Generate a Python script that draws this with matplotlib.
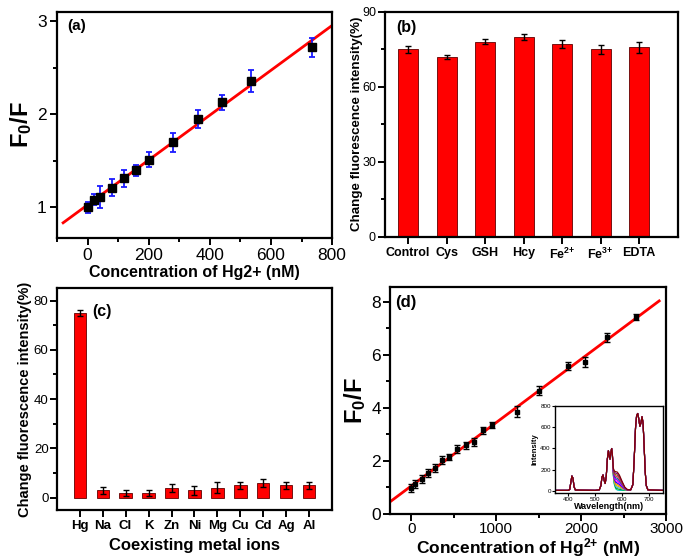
import numpy as np
import matplotlib
matplotlib.use("Agg")
import matplotlib.pyplot as plt
from matplotlib.ticker import MultipleLocator

plt.rcParams['font.family'] = ['Liberation Sans', 'DejaVu Sans']
plt.rcParams['mathtext.fontset'] = 'custom'
plt.rcParams['mathtext.rm'] = 'Liberation Sans:bold'
plt.rcParams['mathtext.it'] = 'Liberation Sans:bold'
plt.rcParams['mathtext.bf'] = 'Liberation Sans:bold'
plt.rcParams['mathtext.default'] = 'rm'

# (a) F0/F vs Hg2+ concentration, low range
conc_a = [0, 20, 40, 80, 120, 160, 200, 280, 360, 440, 535, 735]
ratio_a = [1.00, 1.08, 1.11, 1.21, 1.31, 1.40, 1.51, 1.70, 1.95, 2.13, 2.36, 2.72]
err_a = [0.06, 0.06, 0.12, 0.09, 0.09, 0.06, 0.08, 0.10, 0.10, 0.08, 0.12, 0.10]

# (b) interference of small molecules
labels_b = ['Control', 'Cys', 'GSH', 'Hcy', 'Fe$^{2{+}}$', 'Fe$^{3{+}}$', 'EDTA']
values_b = [74.9, 71.8, 78.0, 80.0, 77.1, 74.9, 75.8]
err_b = [1.4, 0.9, 1.0, 1.2, 1.5, 1.7, 2.2]

# (c) coexisting metal ions
labels_c = ['Hg', 'Na', 'Cl', 'K', 'Zn', 'Ni', 'Mg', 'Cu', 'Cd', 'Ag', 'Al']
values_c = [75.0, 3.0, 1.9, 1.9, 4.0, 3.0, 4.0, 5.0, 5.9, 5.0, 5.0]
err_c = [1.1, 1.4, 1.3, 1.3, 1.7, 1.8, 2.2, 1.3, 1.6, 1.4, 1.3]

# (d) F0/F vs Hg2+ concentration, full range
conc_d = [0, 50, 125, 200, 280, 360, 440, 540, 640, 740, 850, 950,
          1240, 1500, 1850, 2050, 2300, 2650]
ratio_d = [0.99, 1.12, 1.32, 1.55, 1.75, 2.02, 2.15, 2.45, 2.58, 2.72, 3.15, 3.35,
           3.85, 4.65, 5.57, 5.72, 6.65, 7.42]
err_d = [0.15, 0.15, 0.15, 0.15, 0.15, 0.15, 0.12, 0.15, 0.15, 0.15, 0.12, 0.12,
         0.20, 0.18, 0.15, 0.18, 0.18, 0.12]

# inset: emission spectra
wl = [350, 400, 405, 409, 413, 417, 421, 426, 500, 515, 521, 525, 529, 533, 537,
      541, 545, 549, 552, 555, 558, 561, 564, 567, 571, 576, 582, 590, 600, 610,
      620, 632, 640, 645, 650, 654, 658, 662, 666, 670, 674, 678, 682, 686, 690,
      696, 750]
base_int = [5, 5, 15, 80, 140, 120, 40, 8, 5, 10, 50, 130, 150, 100, 70,
            140, 300, 380, 330, 300, 360, 400, 320, 150, 60, 20, 8, 5, 5, 5,
            5, 10, 60, 300, 600, 710, 730, 680, 610, 640, 700, 640, 420, 180, 50,
            10, 5]
band_shape = [0, 0, 0, 0, 0, 0, 0, 0, 0, 0, 0, 0, 0, 0, 0,
              0, 0, 0, 0, 0, 0, 0, 0.1, 0.4, 0.75, 0.95, 1.0, 0.85, 0.5, 0.18,
              0.04, 0, 0, 0, 0, 0, 0, 0, 0, 0, 0, 0, 0, 0, 0,
              0, 0]
band_level = [0, 12, 25, 38, 52, 66, 80, 95, 110, 125, 140, 155, 170]
band_colors = ['#00c0c0', '#00b000', '#40a0ff', '#c8c800', '#ff8000', '#0000ff',
               '#ff00ff', '#8000ff', '#008080', '#ff0080', '#808000', '#800080',
               '#800000']

RED = '#ff0000'


def style_axes(ax, tick_size, pad=2.5):
    for sp in ax.spines.values():
        sp.set_linewidth(1.6)
    ax.tick_params(which='both', direction='out', top=False, right=False,
                   width=1.4, labelsize=tick_size, pad=pad)
    ax.tick_params(which='major', length=5)
    ax.tick_params(which='minor', length=3)


def main():
    fig = plt.figure(figsize=(6.86, 5.59), dpi=100)

    # ---- (a)
    ax = fig.add_axes([0.0831, 0.5742, 0.401, 0.4043])
    k, b = np.polyfit(conc_a, ratio_a, 1)
    xl = np.array([-80, 800])
    ax.plot(xl, k * xl + b, color=RED, lw=2, zorder=1)
    ax.errorbar(conc_a, ratio_a, yerr=err_a, fmt='s', color='black', ms=5.5,
                ecolor='#1a1aff', elinewidth=1.3, capsize=2.5, capthick=1.3,
                zorder=2)
    ax.set_xlim(-100, 800)
    ax.set_ylim(0.67, 3.1)
    ax.xaxis.set_major_locator(MultipleLocator(200))
    ax.xaxis.set_minor_locator(MultipleLocator(100))
    ax.yaxis.set_major_locator(MultipleLocator(1))
    ax.yaxis.set_minor_locator(MultipleLocator(0.5))
    style_axes(ax, 12.5)
    ax.set_xlabel('Concentration of Hg2+ (nM)', fontsize=11.5, fontweight='bold')
    ax.xaxis.set_label_coords(0.5, -0.118)
    ax.xaxis.label.set_va('top')
    ax.set_ylabel('F$_0$/F', fontsize=17, fontweight='bold')
    ax.yaxis.set_label_coords(-0.085, 0.5)
    ax.text(0.036, 0.938, '(a)', transform=ax.transAxes, fontsize=11,
            fontweight='bold', va='center')

    # ---- (b)
    ax = fig.add_axes([0.5612, 0.5766, 0.4265, 0.4025])
    xb = np.arange(len(labels_b))
    ax.bar(xb, values_b, width=0.52, color=RED, edgecolor='#600000', lw=0.6)
    ax.errorbar(xb, values_b, yerr=err_b, fmt='none', ecolor='black',
                elinewidth=1, capsize=2.5, capthick=1)
    ax.set_xlim(-0.6, 7.0)
    ax.set_ylim(0, 90)
    ax.set_xticks(xb)
    ax.set_xticklabels(labels_b, fontweight='bold')
    ax.yaxis.set_major_locator(MultipleLocator(30))
    ax.yaxis.set_minor_locator(MultipleLocator(15))
    style_axes(ax, 9, pad=1.5)
    ax.tick_params(axis='x', labelsize=9, pad=2.5)
    ax.set_ylabel('Change fluorescence intensity(%)', fontsize=9.6,
                  fontweight='bold')
    ax.yaxis.set_label_coords(-0.075, 0.5)
    ax.text(0.038, 0.929, '(b)', transform=ax.transAxes, fontsize=11.5,
            fontweight='bold', va='center')

    # ---- (c)
    ax = fig.add_axes([0.0826, 0.0877, 0.4018, 0.3966])
    xc = np.arange(len(labels_c))
    ax.bar(xc, values_c, width=0.53, color=RED, edgecolor='#600000', lw=0.6)
    ax.errorbar(xc, values_c, yerr=err_c, fmt='none', ecolor='black',
                elinewidth=1, capsize=2.5, capthick=1)
    ax.set_xlim(-1, 11)
    ax.set_ylim(-5, 85)
    ax.set_xticks(xc)
    ax.set_xticklabels(labels_c, fontweight='bold')
    ax.yaxis.set_major_locator(MultipleLocator(20))
    ax.yaxis.set_minor_locator(MultipleLocator(10))
    style_axes(ax, 9.5, pad=0.8)
    ax.tick_params(axis='x', labelsize=9.5, pad=2.5)
    ax.set_xlabel('Coexisting metal ions', fontsize=12, fontweight='bold')
    ax.xaxis.set_label_coords(0.5, -0.125)
    ax.xaxis.label.set_va('top')
    ax.set_ylabel('Change fluorescence intensity(%)', fontsize=10.5,
                  fontweight='bold')
    ax.yaxis.set_label_coords(-0.088, 0.5)
    ax.text(0.13, 0.893, '(c)', transform=ax.transAxes, fontsize=11.5,
            fontweight='bold', va='center')

    # ---- (d)
    ax = fig.add_axes([0.5685, 0.0805, 0.4023, 0.4061])
    k, b = np.polyfit(conc_d, ratio_d, 1)
    xl = np.array([-250, 2920])
    ax.plot(xl, k * xl + b, color=RED, lw=2, zorder=1)
    ax.errorbar(conc_d, ratio_d, yerr=err_d, fmt='s', color='black', ms=3.5,
                ecolor='black', elinewidth=1, capsize=2.2, capthick=1, zorder=2)
    ax.set_xlim(-250, 3000)
    ax.set_ylim(0, 8.55)
    ax.xaxis.set_major_locator(MultipleLocator(1000))
    ax.xaxis.set_minor_locator(MultipleLocator(500))
    ax.yaxis.set_major_locator(MultipleLocator(2))
    ax.yaxis.set_minor_locator(MultipleLocator(1))
    style_axes(ax, 12.5, pad=1.5)
    ax.tick_params(axis='x', labelsize=11, pad=0.5)
    ax.set_xlabel('Concentration of Hg$^{2{+}}$ (nM)', fontsize=12.5,
                  fontweight='bold')
    ax.xaxis.set_label_coords(0.5, -0.098)
    ax.xaxis.label.set_va('top')
    ax.set_ylabel('F$_0$/F', fontsize=17, fontweight='bold')
    ax.yaxis.set_label_coords(-0.08, 0.5)
    ax.text(0.018, 0.93, '(d)', transform=ax.transAxes, fontsize=12,
            fontweight='bold', va='center')

    # inset spectra
    ins = fig.add_axes([0.809, 0.118, 0.1574, 0.1556])
    base = np.array(base_int, dtype=float)
    shape = np.array(band_shape)
    for lvl, col in zip(band_level, band_colors):
        ins.plot(wl, base + lvl * shape, color=col, lw=0.8)
    ins.set_xlim(350, 752)
    ins.set_ylim(-20, 800)
    ins.xaxis.set_major_locator(MultipleLocator(100))
    ins.yaxis.set_major_locator(MultipleLocator(200))
    for sp in ins.spines.values():
        sp.set_linewidth(1)
    ins.tick_params(direction='out', length=2, width=0.8, labelsize=4.5,
                    pad=1, top=False, right=False)
    ins.set_xlabel('Wavelength(nm)', fontsize=6.5, fontweight='bold', labelpad=0)
    ins.set_ylabel('Intensity', fontsize=5.5, fontweight='bold', labelpad=1)

    fig.savefig('out.png', dpi=100)


if __name__ == "__main__":
    main()
